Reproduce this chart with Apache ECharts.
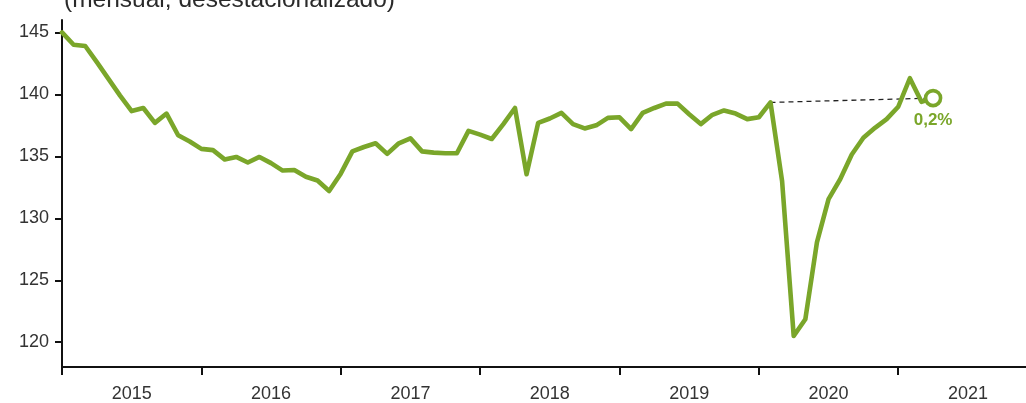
<!DOCTYPE html>
<html>
<head>
<meta charset="utf-8">
<script src="https://cdn.jsdelivr.net/npm/echarts@6/dist/echarts.min.js"></script>
<style>
  html, body { margin: 0; padding: 0; background: #fff; }
  #chart { width: 1026px; height: 403px; }
</style>
</head>
<body>
<div id="chart"></div>
<script>
// Monthly index, seasonally adjusted
const years = ['2015', '2016', '2017', '2018', '2019', '2020', '2021'];
const v2015 = [145.0, 144.0, 143.9, 142.6, 141.25, 139.9, 138.65, 138.9, 137.7, 138.45, 136.7, 136.2];
const v2016 = [135.6, 135.5, 134.75, 134.95, 134.5, 134.95, 134.45, 133.85, 133.9, 133.35, 133.05, 132.2];
const v2017 = [133.6, 135.4, 135.75, 136.05, 135.2, 136.05, 136.45, 135.4, 135.3, 135.25, 135.25, 137.05];
const v2018 = [136.75, 136.4, 137.6, 138.9, 133.55, 137.7, 138.05, 138.5, 137.6, 137.25, 137.5, 138.1];
const v2019 = [138.15, 137.2, 138.5, 138.9, 139.25, 139.25, 138.4, 137.6, 138.35, 138.7, 138.45, 138.0];
const v2020 = [138.15, 139.35, 133.0, 120.5, 121.85, 128.05, 131.55, 133.15, 135.15, 136.5, 137.3, 138.0];
const v2021 = [139.0, 141.3, 139.4, 139.7];
const yTicks = [120, 125, 130, 135, 140, 145];
const refMonth = '2020-02';

const green = '#7aa62a';
const values = [].concat(v2015, v2016, v2017, v2018, v2019, v2020, v2021);
const months = [];
years.forEach(function (y) {
  for (let m = 1; m <= 12; m++) months.push(y + '-' + (m < 10 ? '0' : '') + m);
});

const lastIdx = values.length - 1;
const change = (values[lastIdx] / values[lastIdx - 1] - 1) * 100;
const changeText = change.toFixed(1).replace('.', ',') + '%';
const refIdx = months.indexOf(refMonth);

const chart = echarts.init(document.getElementById('chart'), null, { renderer: 'canvas' });
chart.setOption({
  animation: false,
  backgroundColor: '#ffffff',
  textStyle: { fontFamily: 'Liberation Sans' },
  title: {
    text: '(mensual, desestacionalizado)',
    left: 64,
    top: -12,
    padding: 0,
    textStyle: { fontSize: 24.5, fontWeight: 'normal', color: '#2a2a2a', fontFamily: 'Liberation Sans' }
  },
  grid: { left: 62, right: -2, top: 20, bottom: 36, containLabel: false },
  xAxis: {
    type: 'category',
    data: months,
    boundaryGap: false,
    axisLine: { lineStyle: { color: '#111', width: 2 } },
    axisTick: { interval: 11, length: 8, lineStyle: { color: '#111', width: 2 } },
    axisLabel: {
      interval: function (index) { return index % 12 === 6; },
      formatter: function (val) { return val.slice(0, 4); },
      margin: 18,
      fontSize: 18,
      color: '#333'
    },
    splitLine: { show: false }
  },
  yAxis: {
    type: 'value',
    min: 118,
    max: 146,
    axisLine: { show: true, lineStyle: { color: '#111', width: 2 } },
    axisTick: { show: true, customValues: yTicks, length: 7, lineStyle: { color: '#111', width: 2 } },
    axisLabel: { customValues: yTicks, margin: 13, fontSize: 18, color: '#333' },
    splitLine: { show: false }
  },
  series: [{
    type: 'line',
    data: values,
    symbol: 'none',
    z: 3,
    lineStyle: { color: green, width: 4.6, cap: 'round', join: 'round' },
    markLine: {
      silent: true,
      symbol: ['none', 'none'],
      z: 1,
      label: { show: false },
      lineStyle: { color: '#222', type: [5, 4], width: 1.3 },
      data: [[
        { coord: [refIdx, values[refIdx]] },
        { coord: [lastIdx, values[lastIdx]] }
      ]]
    },
    markPoint: {
      silent: true,
      z: 5,
      data: [{
        coord: [lastIdx, values[lastIdx]],
        symbol: 'circle',
        symbolSize: 15,
        itemStyle: { color: '#ffffff', borderColor: green, borderWidth: 3.6 },
        label: {
          show: true,
          position: 'bottom',
          distance: 4,
          formatter: changeText,
          color: green,
          fontWeight: 'bold',
          fontSize: 17,
          fontFamily: 'Liberation Sans'
        }
      }]
    }
  }]
});
</script>
</body>
</html>
